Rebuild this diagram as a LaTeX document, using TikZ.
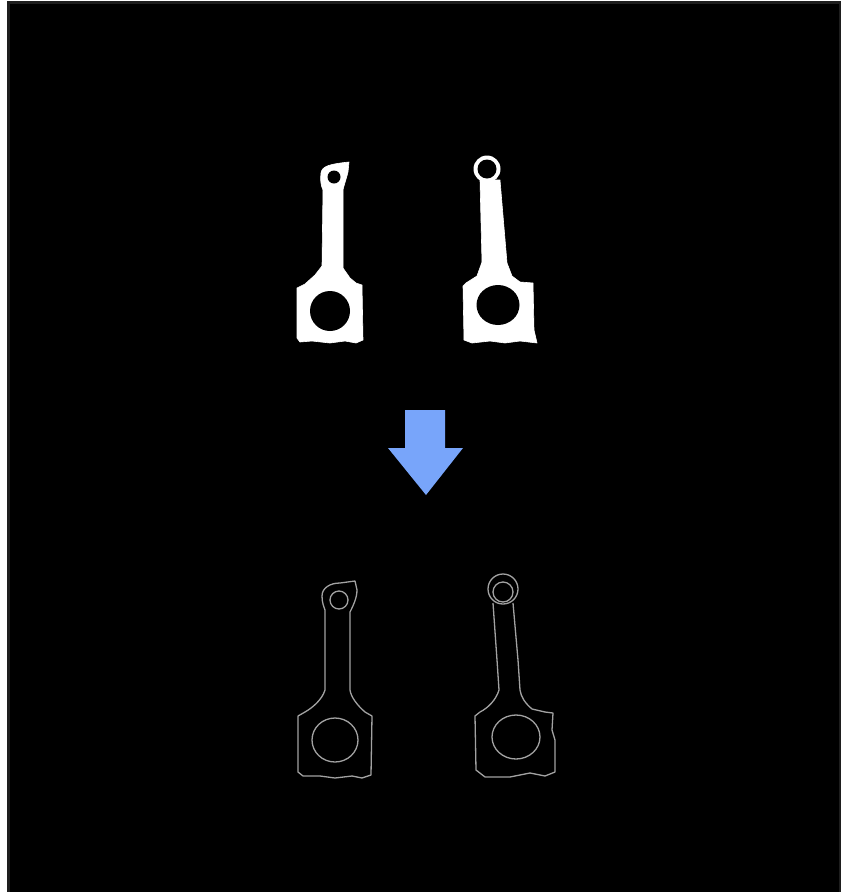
\documentclass[tikz,border=0pt]{standalone}
\usepackage{xcolor}
\definecolor{frameg}{HTML}{1E1E1E}
\definecolor{edgeg}{HTML}{A2A2A2}
\definecolor{arrowblue}{RGB}{120,165,250}
\begin{document}
\begin{tikzpicture}[x=1pt,y=-1pt,
  solidpart/.style={fill=white,draw=white,line width=0.6pt,line join=round},
  hole/.style={fill=black},
  contour/.style={draw=edgeg,line width=1.3pt,line join=round}]
% canvas and frame
\fill[white] (0,0) rectangle (841,892);
\useasboundingbox (0,0) rectangle (841,892);
\fill[frameg] (7,1) rectangle (841,892);
\fill[black] (10,4) rectangle (839,892);

% ---- upper row: filled silhouettes ----
% left rod
\path[solidpart]
  (321,173) .. controls (322,166) and (330,164) .. (349,162)
  -- (348,172) .. controls (346,180) and (344,185) .. (343,190)
  -- (343,268) -- (350,278) -- (356,283) -- (362,285)
  -- (363,340) -- (356,343) -- (345,341) -- (330,343) -- (312,341) -- (300,342)
  -- (297,338) -- (297,288) -- (305,284) -- (315,275) -- (322,266)
  -- (323,190) .. controls (321,186) and (320,180) .. (321,173) -- cycle;
\fill[hole] (334,177) circle[radius=6.5];
\fill[hole] (330,311) circle[radius=20];

% right rod
\fill[white] (487,169) circle[radius=13.5];
\path[solidpart]
  (480,180) -- (482,262) -- (477,276) -- (466,283) -- (463,286)
  -- (464,340) -- (472,343) -- (490,341) -- (505,343) -- (520,341) -- (537,343)
  -- (534,330) -- (533,283) -- (520,282) -- (512,276) -- (507,263)
  -- (500,180) -- cycle;
\fill[hole] (487,169) circle[radius=9.5];
\fill[hole] (498,305) ellipse[x radius=21.5,y radius=20];

% ---- arrow ----
\fill[arrowblue] (405,410) -- (445,410) -- (445,448) -- (463,448)
  -- (426,495) -- (388,448) -- (405,448) -- cycle;

% ---- lower row: edge contours ----
% left contour
\draw[contour]
  (325,610) -- (325,690) .. controls (322,700) and (312,708) .. (305,712)
  -- (298,716) -- (298,772) -- (303,776) -- (320,776) -- (335,778)
  -- (352,776) -- (362,778) -- (371,775) -- (372,716) -- (365,712)
  .. controls (357,705) and (351,697) .. (350,690) -- (350,612)
  .. controls (353,606) and (357,598) .. (357,590) -- (355,581)
  -- (340,583) .. controls (330,583) and (322,588) .. (322,596)
  .. controls (322,603) and (324,607) .. (325,610);
\draw[contour] (339,600) circle[radius=9];
\draw[contour] (335,740) ellipse[x radius=23,y radius=22];

% right contour
\draw[contour] (503,589) circle[radius=15];
\draw[contour] (503,592) circle[radius=10];
\draw[contour]
  (493,603) -- (497,660) -- (499,690) .. controls (496,700) and (488,708) .. (480,712)
  -- (475,716) -- (476,770) -- (485,777) -- (510,777) -- (530,773)
  -- (545,776) -- (555,772) -- (555,740) -- (552,730) -- (553,713)
  -- (545,712) -- (532,709) .. controls (525,703) and (521,697) .. (520,690)
  -- (518,660) -- (513,603);
\draw[contour] (516,737) ellipse[x radius=24,y radius=22];
\end{tikzpicture}
\end{document}
